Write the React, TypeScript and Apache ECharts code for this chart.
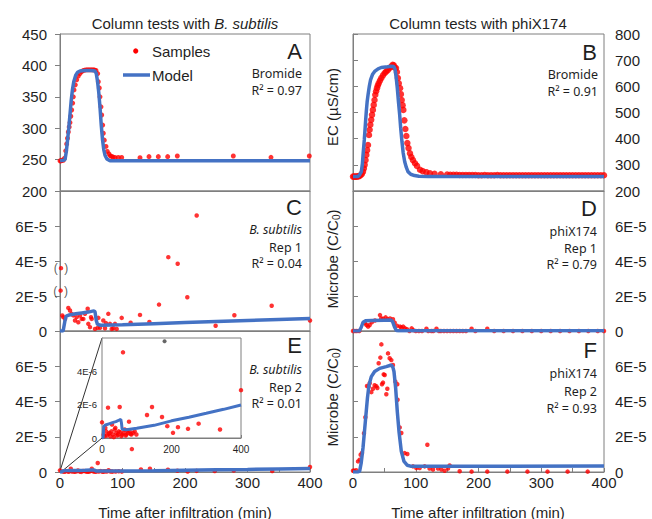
import React, { useEffect, useRef } from 'react';
import * as echarts from 'echarts';

// ---------- data ----------
// Panel A: bromide, B. subtilis column (EC, µS/cm)
const aSamples: number[][] = [[0,248],[1.5,248],[3,249],[5.3,249],[7,252],[9.1,264],[10.7,275],[12,284],[13.3,294],[14.7,302],[16,309],[17.3,319],[18.7,329],[20.3,340],[21.3,350],[22.4,361],[24.5,369],[26.7,377],[29.3,383],[32,387],[34.7,390],[37.3,392],[40,392.5],[42.7,393],[45.3,393],[48,393],[50.7,393],[53.3,393],[55.5,392.5],[57.6,392],[60.3,387],[61.3,374],[62.9,364],[64,350],[65.6,334],[66.7,321],[68.3,305],[69.3,292],[70.9,281],[73.6,271],[75.7,263],[78.4,259],[80.5,256],[82.7,255],[85,254],[88,253.5],[93.3,253.5],[98.7,253.5],[128,253],[142.4,254.7],[157.3,254.7],[172.3,254.7],[187.7,255.7],[277.3,255.7],[337.6,253.6],[398.9,255.7]];
const aModel: number[][] = [[0,248],[5,249],[8,250],[10,262],[12,280],[14,300],[16,322],[18,345],[20,362],[22,374],[25,384],[28,389],[32,391],[40,392],[50,392],[56,391],[58,387],[60,375],[62,357],[64,333],[66,305],[68,282],[70,266],[72,257],[75,251],[80,248],[90,248],[400,248]];

// Panel B: bromide, phiX174 column
const bSamples: number[][] = [[0,255],[2,255],[4,255],[6,255],[8,256],[10,257],[12,260],[14,265],[15.9,274],[17.3,286],[18.6,300],[20,318],[21.2,338],[22.5,356],[23.9,376],[25.5,414],[26.5,434],[27.6,453],[29,472],[30.3,491],[31.7,510],[33,529],[34.3,548],[35.5,568],[36.8,581],[38.2,593],[39.5,603],[40.9,612],[43,622],[45.1,632],[47.8,642],[50.5,651],[53,657],[55.8,663],[58.4,670],[61,676],[63.2,682],[65,680],[66.4,672],[68.5,670],[70,655],[71.5,632],[73,612],[75,593],[76.3,570],[77.6,548],[79,528],[80.2,510],[81.8,470],[83.4,437],[85,410],[86.6,383],[88.5,364],[90.8,344],[93,330],[95.5,318],[98.8,306],[102,296],[106.8,281],[111,276],[116.8,272],[122.7,268],[130,266],[140,264],[150,263],[155,262],[160,262],[165,262],[170,261],[175,261],[180,261],[185,261],[190,261],[195,261],[200,260],[205,260],[210,261],[215,260],[220,260],[225,260],[230,261],[235,260],[240,260],[245,260],[250,260],[255,260],[260,260],[265,260],[270,260],[275,260],[280,260],[285,260],[290,260],[295,260],[300,260],[305,260],[310,260],[315,260],[320,260],[325,260],[330,260],[335,260],[340,260],[345,260],[350,260],[355,260],[360,260],[365,260],[370,260],[375,260],[380,260],[385,260],[390,260],[395,260],[400,260]];
const bModel: number[][] = [[0,255],[8,255],[10,260],[12,268],[13.3,274],[15,305],[16,338],[18,395],[19,430],[20,465],[21.2,504],[22.5,540],[24,568],[26,600],[28,625],[31,645],[34.5,657],[40,667],[45,672],[55,675],[61,677],[65,676],[67,665],[69,630],[70.6,593],[72.5,540],[74.4,491],[76,440],[78,389],[80,345],[82.4,312],[85,290],[87.6,274],[92,264],[98,259],[105,256],[120,255],[400,255]];

// Panel C: B. subtilis rep 1 (C/C0, units of 1E-5)
const cSamples: number[][] = [[3.7,0.89],[5.3,0.79],[8,0.69],[13.3,1.32],[16,1.17],[18.7,0.98],[21.3,0.89],[24,0.6],[26.7,0.79],[29.3,0.5],[32,0.88],[34.7,0.69],[37.3,0.69],[40,0.98],[44.3,1.27],[45.3,0.41],[48,0.22],[49.6,0.79],[50.7,0.69],[56,0.12],[60.3,0.18],[61.3,0.75],[64,0.18],[69.3,0.6],[72,0.16],[73.6,0.45],[77.3,0.98],[80,0.41],[82.7,0.12],[85.3,0.16],[88,0.41],[90.7,0.12],[98.7,0.75],[113,0.47],[128,0.92],[143,0.52],[158.4,1.51],[173.3,4.22],[188.3,3.84],[203.7,1.93],[218.7,6.6],[249,0.3],[279,0.9],[338.7,1.44],[400,0.6]];
const cBracketed: number[][] = [[1.6,3.59],[1,2.31]];
const cModel: number[][] = [[0,0],[5,0],[8,0.6],[10,0.85],[15,0.92],[25,0.98],[35,1.03],[45,1.08],[54,1.15],[56,1.1],[58,0.6],[60,0.38],[65,0.33],[100,0.36],[150,0.42],[200,0.48],[250,0.54],[300,0.6],[350,0.66],[400,0.72]];

// Panel D: phiX174 rep 1 (units of 1E-5)
const dSamples: number[][] = [[0,0],[3,0],[6,0],[10,0],[19,0.44],[21.5,0.34],[24,0.25],[26.6,0.34],[30,0.5],[35,0.6],[43,0.91],[45,0.72],[48,0.7],[52,0.78],[55,0.67],[59,0.72],[63.7,0.67],[66.4,0.48],[70,0.3],[75,0.25],[77,0.2],[80,0.25],[83,0.15],[86,0.1],[90,0],[93.5,0.15],[96,0.05],[100,0],[105,0],[110,0],[117,0.13],[120,0],[125,0],[128,0],[133,0.13],[137,0],[140,0],[145,0],[150,0],[155,0],[160,0],[165,0],[170,0],[175,0],[180,0],[189,0.13],[195,0],[214,0.13],[225,0],[240,0],[255,0],[270,0],[285,0],[300,0],[315,0],[330,0],[345,0],[360,0],[375,0],[390,0],[400,0]];
const dModel: number[][] = [[0,0],[10,0],[13,0.2],[16,0.5],[20,0.58],[30,0.6],[50,0.62],[60,0.63],[63,0.55],[66,0.25],[69,0.03],[72,0.02],[400,0.02]];

// Panel E: B. subtilis rep 2 (units of 1E-6)
const eSamples: number[][] = [[0,0.94],[5,0.2],[7.7,0.11],[9.6,0.61],[12.2,0.4],[14,0.15],[17.3,1.82],[19,0.25],[22,0.3],[24,0.1],[26.9,0.4],[28.8,0.81],[31.7,0.21],[34,0.05],[36.5,0.51],[38.4,0.61],[41.3,0.3],[44,0.15],[46,0.21],[48,0.4],[50.9,1.86],[53,0.35],[55.7,0.11],[58,0.2],[60.4,5.14],[62,0.3],[65.2,0.51],[68,0.15],[70,0.21],[72,0.45],[74.8,0.3],[77.7,0.98],[79.6,0.4],[82,0.25],[84.4,0.21],[89,0.3],[93.9,0.4],[99,0.21],[115,13],[129.5,1.38],[143.9,1.86],[172.7,1.26],[187.9,0.71],[204.3,0.31],[218.6,0.65],[247.5,0.55],[278,0.86],[339.6,0.51],[400,2.87]];
const eFlagged: number[][] = [[180,5.8]];
const eModel: number[][] = [[0,0],[3,0],[5,0.7],[10,0.78],[20,0.85],[30,0.92],[40,0.98],[50,1.08],[54,1.12],[56,0.9],[58,0.52],[70,0.5],[100,0.58],[150,0.76],[200,1.03],[250,1.25],[300,1.48],[350,1.72],[400,1.98]];

// Panel F: phiX174 rep 2 (units of 1E-5)
const fSamples: number[][] = [[0,0.07],[1.6,0.07],[5,0.1],[8,0.6],[10.6,0.7],[12.2,0.98],[14.3,1.08],[17.5,2.2],[19.7,3.11],[22.3,4.88],[25,4.85],[26.6,5.04],[29.2,4.53],[31.9,4.72],[34.5,4.92],[37.2,4.87],[38.8,4.77],[40.9,6.17],[43.6,6.49],[45.2,7.24],[46.2,4.98],[47.8,5.07],[48.9,5.54],[50.5,5.5],[53.1,4.41],[54.7,4.72],[55.8,6.73],[58.4,6.45],[61.1,6.35],[63.7,6.07],[67.5,5.13],[70.6,4.98],[71,4.1],[74.4,2.53],[77,2.21],[82.3,1.07],[86.6,1.02],[95.6,0.32],[100.9,0.23],[106.2,0.23],[114.2,0.32],[118.5,1.55],[122,0.2],[127.5,0.14],[135.5,0.2],[140.8,0.14],[146,0.07],[151.4,0.2],[154,0.37],[170,0.04],[189,0.02],[214,0.02],[246,0.02],[278,0.02],[310,0.02],[342,0.02],[374,0.02]];
const fModel: number[][] = [[0,0],[8,0],[10.6,0.05],[13,0.5],[15.9,1.36],[19.7,2.87],[23,4.19],[25.5,4.94],[29.2,5.41],[34.5,5.7],[42.5,5.88],[53,5.98],[61,6.07],[63.5,5.95],[65.3,5.7],[68,4.75],[70.6,3.43],[73.3,2.3],[77,1.17],[81.3,0.6],[86.6,0.38],[93,0.32],[400,0.34]];

const titles = ['Column tests with ', 'B. subtilis', 'Column tests with phiX174'];
const xName = 'Time after infiltration (min)';

// ---------- styles ----------
const FONT = '"Liberation Sans", Arial, sans-serif';
const NOTE = '"Noto Sans", sans-serif';
const RED = '#ff0000';
const BLUE = '#4472c4';
const LINE = '#7f7f7f';
const TXT = '#1f1f1f';

const grids = [
  { left: 60, top: 34, width: 250, height: 157 },
  { left: 353, top: 34, width: 251, height: 157 },
  { left: 60, top: 191, width: 250, height: 140 },
  { left: 353, top: 191, width: 251, height: 140 },
  { left: 60, top: 331, width: 250, height: 141 },
  { left: 353, top: 331, width: 251, height: 141 },
  { left: 102, top: 338, width: 139, height: 100 },
].map((g, i) => ({ ...g, show: true, borderColor: LINE, borderWidth: 1, backgroundColor: i === 6 ? '#fff' : 'transparent', z: i === 6 ? 5 : 0 }));

function xAx(gridIndex: number, labels: boolean) {
  return {
    type: 'value', gridIndex, min: 0, max: 400, interval: 50,
    axisLine: { show: true, lineStyle: { color: LINE } },
    axisTick: { show: labels, inside: true, length: 4, lineStyle: { color: LINE } },
    axisLabel: { show: labels, color: TXT, fontFamily: FONT, fontSize: 15, margin: 3,
      formatter: (v: number) => (v % 100 === 0 ? String(v) : '') },
    splitLine: { show: false },
  };
}
function yAx(gridIndex: number, position: string, min: number, max: number, interval: number, fmt: ((v: number) => string) | null, showMax: boolean) {
  return {
    type: 'value', gridIndex, position, min, max, interval,
    axisLine: { show: true, lineStyle: { color: LINE } },
    axisTick: { show: true, inside: false, length: 5, lineStyle: { color: LINE } },
    axisLabel: { color: TXT, fontFamily: FONT, fontSize: 15, margin: position === 'left' ? 13 : 11,
      showMaxLabel: showMax, showMinLabel: true, formatter: fmt || ((v: number) => String(v)) },
    splitLine: { show: false },
  };
}
const microbeFmt = (v: number) => (v === 0 ? '0' : `${v}E-5`);
const eFmt = (v: number) => (v === 0 ? '0' : `${v / 10}E-5`);
const insetFmt = (v: number) => (v === 0 ? '0' : `${v}E-6`);

function samples(i: number, data: number[][], size: number, color = RED, z = 3) {
  return { type: 'scatter', xAxisIndex: i, yAxisIndex: i, data, symbolSize: size, itemStyle: { color }, silent: true, z };
}
function model(i: number, data: number[][], width = 3.5) {
  return { type: 'line', xAxisIndex: i, yAxisIndex: i, data, showSymbol: false, symbol: 'none', lineStyle: { color: BLUE, width }, silent: true, z: 4, clip: true };
}
function t(x: number, y: number, text: string, extra: any = {}) {
  return { type: 'text', x, y, z: 50, style: { text, fill: TXT, fontFamily: NOTE, fontSize: 12.5, align: 'right', verticalAlign: 'middle', ...extra } };
}
function letter(x: number, y: number, text: string) {
  return t(x, y, text, { fontFamily: FONT, fontSize: 22 });
}

export default function App() {
  const ref = useRef<HTMLDivElement>(null);
  useEffect(() => {
    document.body.style.margin = '0';
    const chart = echarts.init(ref.current!, null, { renderer: 'svg' });
    const option: any = {
      animation: false,
      backgroundColor: '#fff',
      grid: grids,
      xAxis: [
        xAx(0, false), xAx(1, false), xAx(2, false), xAx(3, false), xAx(4, true), xAx(5, true),
        { type: 'value', gridIndex: 6, min: 0, max: 400, interval: 200,
          axisLine: { show: true, lineStyle: { color: LINE } },
          axisTick: { show: true, inside: true, length: 3, lineStyle: { color: LINE } },
          axisLabel: { color: TXT, fontFamily: FONT, fontSize: 10, margin: 6 }, splitLine: { show: false } },
      ],
      yAxis: [
        yAx(0, 'left', 200, 450, 50, null, true),
        yAx(1, 'right', 200, 800, 100, null, true),
        yAx(2, 'left', 0, 8, 2, microbeFmt, false),
        yAx(3, 'right', 0, 8, 2, microbeFmt, false),
        yAx(4, 'left', 0, 80, 20, eFmt, false),
        yAx(5, 'right', 0, 8, 2, microbeFmt, false),
        { type: 'value', gridIndex: 6, min: 0, max: 6, interval: 2,
          axisLine: { show: true, lineStyle: { color: LINE } },
          axisTick: { show: true, inside: true, length: 3, lineStyle: { color: LINE } },
          axisLabel: { color: TXT, fontFamily: FONT, fontSize: 9.5, margin: 5, showMaxLabel: false, formatter: insetFmt },
          splitLine: { show: false } },
      ],
      series: [
        samples(0, aSamples, 5), model(0, aModel),
        samples(1, bSamples, 6.5), model(1, bModel),
        samples(2, cSamples, 4.5), model(2, cModel),
        { ...samples(2, cBracketed, 4.5), label: { show: true, position: 'inside', formatter: '(  )', color: '#333', fontSize: 12, fontFamily: FONT } },
        samples(3, dSamples, 4.5), model(3, dModel),
        samples(4, eSamples, 4.5), model(4, eModel),
        samples(5, fSamples, 4.5), model(5, fModel),
        { ...samples(6, eSamples, 4.5), z: 10 }, { ...model(6, eModel, 3), z: 11 },
        { ...samples(6, eFlagged, 4, '#404040'), z: 10 },
      ],
      graphic: [
        { type: 'text', x: 185, y: 23, z: 50, style: { text: `{n|${titles[0]}}{i|${titles[1]}}`, align: 'center', verticalAlign: 'middle',
          rich: { n: { fontFamily: FONT, fontSize: 15, fill: TXT }, i: { fontFamily: FONT, fontSize: 15, fontStyle: 'italic', fill: TXT } } } },
        { type: 'text', x: 478, y: 23, z: 50, style: { text: titles[2], fontFamily: FONT, fontSize: 15, fill: TXT, align: 'center', verticalAlign: 'middle' } },
        { type: 'text', x: 185, y: 512, z: 50, style: { text: xName, fontFamily: FONT, fontSize: 15, fill: TXT, align: 'center', verticalAlign: 'middle' } },
        { type: 'text', x: 478, y: 512, z: 50, style: { text: xName, fontFamily: FONT, fontSize: 15, fill: TXT, align: 'center', verticalAlign: 'middle' } },
        { type: 'text', x: 332, y: 107, rotation: Math.PI / 2, z: 50, style: { text: 'EC (µS/cm)', fontFamily: FONT, fontSize: 15, fill: TXT, align: 'center', verticalAlign: 'middle' } },
        ...[259, 397].map((y) => ({ type: 'text', x: 332, y, rotation: Math.PI / 2, z: 50, style: {
          text: '{n|Microbe (C/C}{s|0}{n|)}', align: 'center', verticalAlign: 'middle',
          rich: { n: { fontFamily: FONT, fontSize: 15, fill: TXT, lineHeight: 18 }, s: { fontFamily: FONT, fontSize: 10, fill: TXT, lineHeight: 18, verticalAlign: 'bottom', padding: [6, 0, 0, 0] } } } })),
        // legend
        { type: 'circle', z: 50, shape: { cx: 135.7, cy: 51, r: 2.6 }, style: { fill: RED } },
        { type: 'text', x: 152, y: 51, z: 50, style: { text: 'Samples', fontFamily: FONT, fontSize: 15, fill: TXT, align: 'left', verticalAlign: 'middle' } },
        { type: 'line', z: 50, shape: { x1: 123, y1: 75, x2: 150, y2: 75 }, style: { stroke: BLUE, lineWidth: 3.5 } },
        { type: 'text', x: 152, y: 75, z: 50, style: { text: 'Model', fontFamily: FONT, fontSize: 15, fill: TXT, align: 'left', verticalAlign: 'middle' } },
        // panel annotations
        letter(302, 51, 'A'), t(302, 73, 'Bromide'), t(302, 90, 'R² = 0.97'),
        letter(597, 52, 'B'), t(598, 74, 'Bromide'), t(598, 91, 'R² = 0.91'),
        letter(302, 207, 'C'), t(302, 229, 'B. subtilis', { fontStyle: 'italic' }), t(302, 247, 'Rep 1'), t(302, 263, 'R² = 0.04'),
        letter(597, 208, 'D'), t(597, 231, 'phiX174'), t(597, 248, 'Rep 1'), t(597, 264, 'R² = 0.79'),
        letter(302, 345, 'E'), t(302, 369, 'B. subtilis', { fontStyle: 'italic' }), t(302, 387, 'Rep 2'), t(302, 403, 'R² = 0.01'),
        letter(597, 350, 'F'), t(597, 373, 'phiX174'), t(597, 391, 'Rep 2'), t(597, 408, 'R² = 0.93'),
        // inset connectors
        { type: 'line', z: 1, shape: { x1: 102, y1: 338, x2: 60, y2: 471 }, style: { stroke: '#333', lineWidth: 1 } },
        { type: 'line', z: 1, shape: { x1: 102, y1: 438, x2: 61, y2: 472 }, style: { stroke: '#333', lineWidth: 1 } },
      ],
    };
    chart.setOption(option);
    return () => chart.dispose();
  }, []);
  return <div ref={ref} style={{ position: 'absolute', left: 0, top: 0, width: 652, height: 519, background: '#fff' }} />;
}
